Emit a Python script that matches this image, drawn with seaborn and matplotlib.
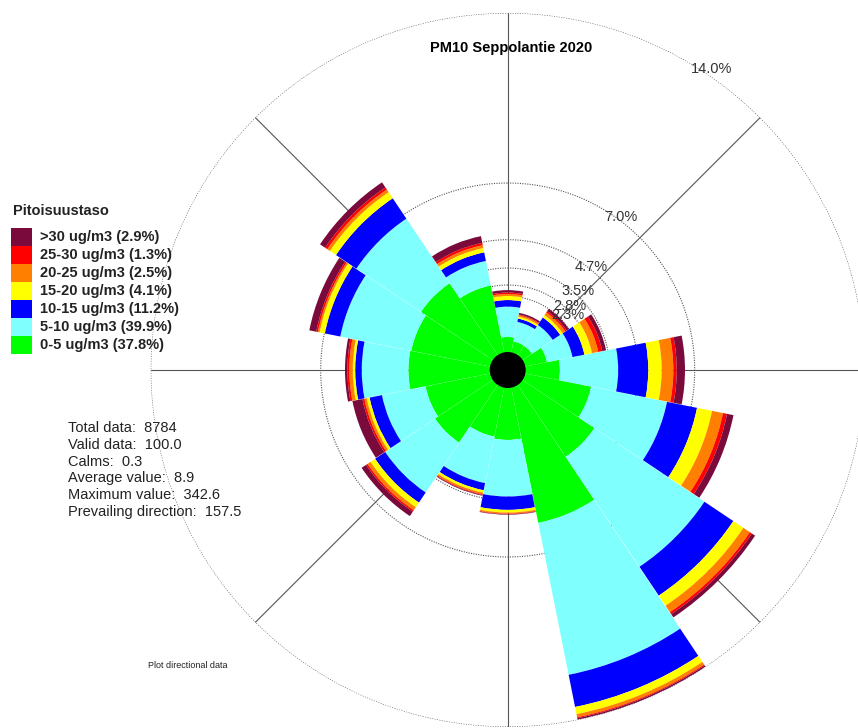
import numpy as np
import matplotlib
matplotlib.use("Agg")
import matplotlib.pyplot as plt
from matplotlib.patches import Rectangle, Circle
import seaborn as sns

# ---------------------------------------------------------------------------
# Data: frequency (% of all hours) per wind direction and PM10 class
# ---------------------------------------------------------------------------
directions = ["N", "NNE", "NE", "ENE", "E", "ESE", "SE", "SSE",
              "S", "SSW", "SW", "WSW", "W", "WNW", "NW", "NNW"]
direction_deg = [0.0, 22.5, 45.0, 67.5, 90.0, 112.5, 135.0, 157.5,
                 180.0, 202.5, 225.0, 247.5, 270.0, 292.5, 315.0, 337.5]

pm_0_5 = [0.66, 0.50, 0.50, 0.95, 1.45, 2.80, 3.60, 5.72,
          2.18, 2.10, 2.90, 2.75, 3.39, 3.35, 3.60, 2.85]
pm_5_10 = [1.25, 0.82, 1.03, 1.07, 2.40, 3.19, 5.45, 6.38,
           2.33, 1.95, 2.47, 1.83, 1.92, 2.98, 3.20, 1.03]
pm_10_15 = [0.27, 0.14, 0.37, 0.50, 1.24, 1.26, 1.43, 1.35,
            0.55, 0.30, 0.50, 0.52, 0.27, 0.65, 1.01, 0.36]
pm_15_20 = [0.17, 0.08, 0.12, 0.32, 0.55, 0.63, 0.50, 0.30,
            0.11, 0.10, 0.23, 0.12, 0.10, 0.22, 0.30, 0.18]
pm_20_25 = [0.08, 0.06, 0.13, 0.26, 0.48, 0.46, 0.32, 0.13,
            0.05, 0.07, 0.15, 0.10, 0.14, 0.07, 0.13, 0.12]
pm_25_30 = [0.06, 0.03, 0.07, 0.17, 0.14, 0.17, 0.10, 0.04,
            0.02, 0.03, 0.07, 0.08, 0.08, 0.07, 0.11, 0.10]
pm_over_30 = [0.10, 0.07, 0.11, 0.16, 0.34, 0.27, 0.16, 0.06,
              0.02, 0.03, 0.22, 0.42, 0.10, 0.29, 0.25, 0.28]

class_labels = ["0-5 ug/m3 (37.8%)", "5-10 ug/m3 (39.9%)", "10-15 ug/m3 (11.2%)",
                "15-20 ug/m3 (4.1%)", "20-25 ug/m3 (2.5%)", "25-30 ug/m3 (1.3%)",
                ">30 ug/m3 (2.9%)"]
ring_max = 14.0
ring_labels = ["14.0%", "7.0%", "4.7%", "3.5%", "2.8%", "2.3%"]

stats_lines = ["Total data:  8784", "Valid data:  100.0", "Calms:  0.3",
               "Average value:  8.9", "Maximum value:  342.6",
               "Prevailing direction:  157.5"]

title = "PM10 Seppolantie 2020"
legend_title = "Pitoisuustaso"

# ---------------------------------------------------------------------------
# Style
# ---------------------------------------------------------------------------
sns.set_theme(style="white")
plt.rcParams["font.family"] = ["Liberation Sans", "DejaVu Sans"]

palette = sns.color_palette(["#00ff00", "#80ffff", "#0000ff", "#ffff00",
                             "#ff8000", "#ff0000", "#7a0a3c"])
series = [pm_0_5, pm_5_10, pm_10_15, pm_15_20, pm_20_25, pm_25_30, pm_over_30]

W, H = 858, 728
fig = plt.figure(figsize=(W / 100, H / 100), dpi=100)
fig.patch.set_facecolor("white")

def fx(px):
    return px / W

def fy(py):
    return 1 - py / H

# polar axes: centre (507.7, 370) px, 14 % ring at 357 px
cx, cy, R = 507.7, 370.0, 357.0
ax = fig.add_axes([fx(cx - R), fy(cy + R), 2 * R / W, 2 * R / H],
                  projection="polar")
ax.set_theta_zero_location("N")
ax.set_theta_direction(-1)
ax.set_ylim(0, ring_max)
ax.set_rorigin(-0.7)
ax.grid(False)
ax.set_xticks([])
ax.set_yticks([])
ax.spines["polar"].set_visible(False)
ax.patch.set_alpha(0)

# spokes every 45 degrees
for a in range(0, 360, 45):
    ax.plot([np.deg2rad(a)] * 2, [0, ring_max], color="#555555", lw=0.8, zorder=1)

# dotted range rings at max/1 ... max/6
tt = np.linspace(0, 2 * np.pi, 1441)
for k in range(1, 7):
    ax.plot(tt, np.full_like(tt, ring_max / k), color="#555555",
            lw=0.8, ls=(0, (1, 1.2)), zorder=1)

# stacked sectors
theta = np.deg2rad(direction_deg)
width = np.deg2rad(22.5) * 0.995
bottom = np.zeros(len(directions))
for vals, col in zip(series, palette):
    vals = np.asarray(vals)
    ax.bar(theta, vals, width=width, bottom=bottom, color=col,
           edgecolor="none", linewidth=0, zorder=3)
    bottom = bottom + vals

# calm circle (inside the polar origin hole, so not clipped)
ax.add_patch(Circle((0.5, 0.5), 18.0 / (2 * R), transform=ax.transAxes,
                    facecolor="black", edgecolor="none", zorder=5,
                    clip_on=False))

# ring labels
label_angles = [34.2, 36.5, 39.0, 41.7, 44.0, 47.4]
label_offsets = [0.27, 0.16, 0.08, 0.15, 0.19, 0.31]
for k, (txt, ang, off) in enumerate(zip(ring_labels, label_angles, label_offsets)):
    ax.text(np.deg2rad(ang), ring_max / (k + 1) + off, txt, ha="center",
            va="center", fontsize=10.5, color="#333333", zorder=6, clip_on=False)

# title
fig.text(fx(511), fy(48), title, ha="center", va="center",
         fontsize=10.5, fontweight="bold", color="black")

# legend
fig.text(fx(13), fy(211), legend_title, ha="left", va="center",
         fontsize=10.5, fontweight="bold", color="#222222")
row_h = 17.9
top = 228.3
for i, (lab, col) in enumerate(zip(class_labels[::-1], list(palette)[::-1])):
    y0 = top + i * row_h
    fig.patches.append(Rectangle((fx(11), fy(y0 + row_h)), 21 / W, row_h / H,
                                 transform=fig.transFigure, facecolor=col,
                                 edgecolor="none"))
    fig.text(fx(40), fy(y0 + row_h / 2), lab, ha="left", va="center",
             fontsize=10.5, fontweight="bold", color="#222222")

# statistics block
for i, line in enumerate(stats_lines):
    fig.text(fx(68), fy(428 + i * 16.8), line, ha="left", va="center",
             fontsize=10.5, color="#222222")

fig.text(fx(148), fy(665), "Plot directional data", ha="left", va="center",
         fontsize=6.5, color="#222222")

fig.savefig("out.png", dpi=100, facecolor="white")
